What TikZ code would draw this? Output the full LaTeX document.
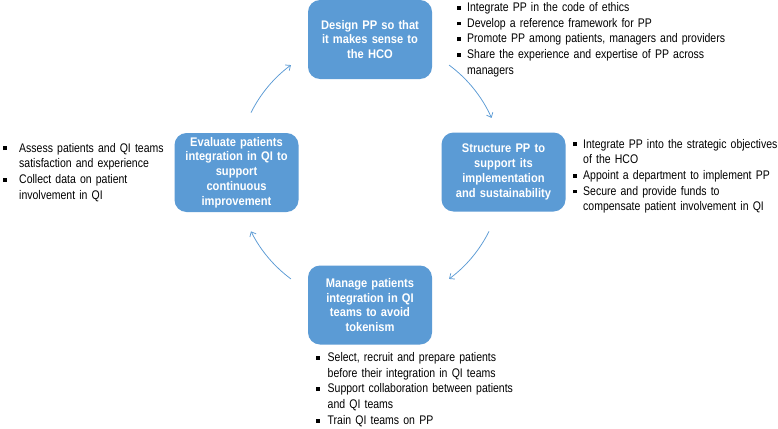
\documentclass[tikz,border=0pt]{standalone}
\usepackage{fontspec}
\setmainfont{Liberation Sans}
\newfontfamily\boxfont[FakeStretch=0.89]{Liberation Sans}
\newfontfamily\listfont[FakeStretch=0.84]{Liberation Sans}
\usetikzlibrary{arrows.meta}
\definecolor{boxblue}{HTML}{5B9BD5}
\definecolor{arrowblue}{HTML}{5B9BD5}
\newcommand{\bitem}[2][10pt]{\hangindent=#1\hangafter=1\noindent\makebox[#1][l]{\rule[1.8pt]{3.8pt}{3.8pt}}#2\par}
\tikzset{
  stepbox/.style={fill=boxblue, rounded corners=12pt, minimum width=124pt, minimum height=79pt,
    inner sep=2pt, text=white, font=\boxfont\bfseries\fontsize{12.5}{14.8}\selectfont,
    align=center, text width=120pt},
  listtext/.style={anchor=base west, inner sep=0pt, font=\listfont\fontsize{12.5}{15.7}\selectfont,
    align=left},
  cyc/.style={draw=arrowblue, line width=0.75pt, -{Straight Barb[length=4pt,width=7pt]}}
}
\begin{document}
\begin{tikzpicture}[x=1pt,y=1pt]
\fill[white] (0,0) rectangle (778,-428);
\useasboundingbox (0,0) rectangle (778,-428);
\coordinate (ctr) at (370,-172);
\node[stepbox] (design) at (370,-39.5) {Design PP so that\\ it makes sense to\\ the HCO};
\node[stepbox] (structure) at (503.5,-172) {Structure PP to\\ support its\\ implementation\\ and sustainability};
\node[stepbox] (manage) at (370,-305) {Manage patients\\ integration in QI\\ teams to avoid\\ tokenism};
\node[stepbox] (evaluate) at (236.5,-172.5) {Evaluate patients\\ integration in QI to\\ support\\ continuous\\ improvement};
\draw[cyc] ([shift={(53.5:133pt)}]ctr) arc[start angle=53.5, end angle=24, radius=133pt];
\draw[cyc] ([shift={(-26.5:133pt)}]ctr) arc[start angle=-26.5, end angle=-53.5, radius=133pt];
\draw[cyc] ([shift={(233.5:133pt)}]ctr) arc[start angle=233.5, end angle=206.5, radius=133pt];
\draw[cyc] ([shift={(153.5:133pt)}]ctr) arc[start angle=153.5, end angle=126.5, radius=133pt];
\node[listtext, text width=320pt] (toplist) at (457,-11.5) {%
\bitem{Integrate PP in the code of ethics}%
\bitem{Develop a reference framework for PP}%
\bitem{Promote PP among patients, managers and providers}%
\bitem{Share the experience and expertise of PP across\newline managers}};
\node[listtext, text width=205pt] (rightlist) at (573,-148) {%
\bitem{Integrate PP into the strategic objectives\newline of the HCO}%
\bitem{Appoint a department to implement PP}%
\bitem{Secure and provide funds to\newline compensate patient involvement in QI}};
\node[listtext, text width=170pt] (leftlist) at (3,-152) {%
\bitem[16pt]{Assess patients and QI teams\newline satisfaction and experience}%
\bitem[16pt]{Collect data on patient\newline involvement in QI}};
\node[listtext, text width=230pt] (bottomlist) at (316,-361.5) {%
\bitem[11.5pt]{Select, recruit and prepare patients\newline before their integration in QI teams}%
\bitem[11.5pt]{Support collaboration between patients\newline and QI teams}%
\bitem[11.5pt]{Train QI teams on PP}};
\end{tikzpicture}
\end{document}
